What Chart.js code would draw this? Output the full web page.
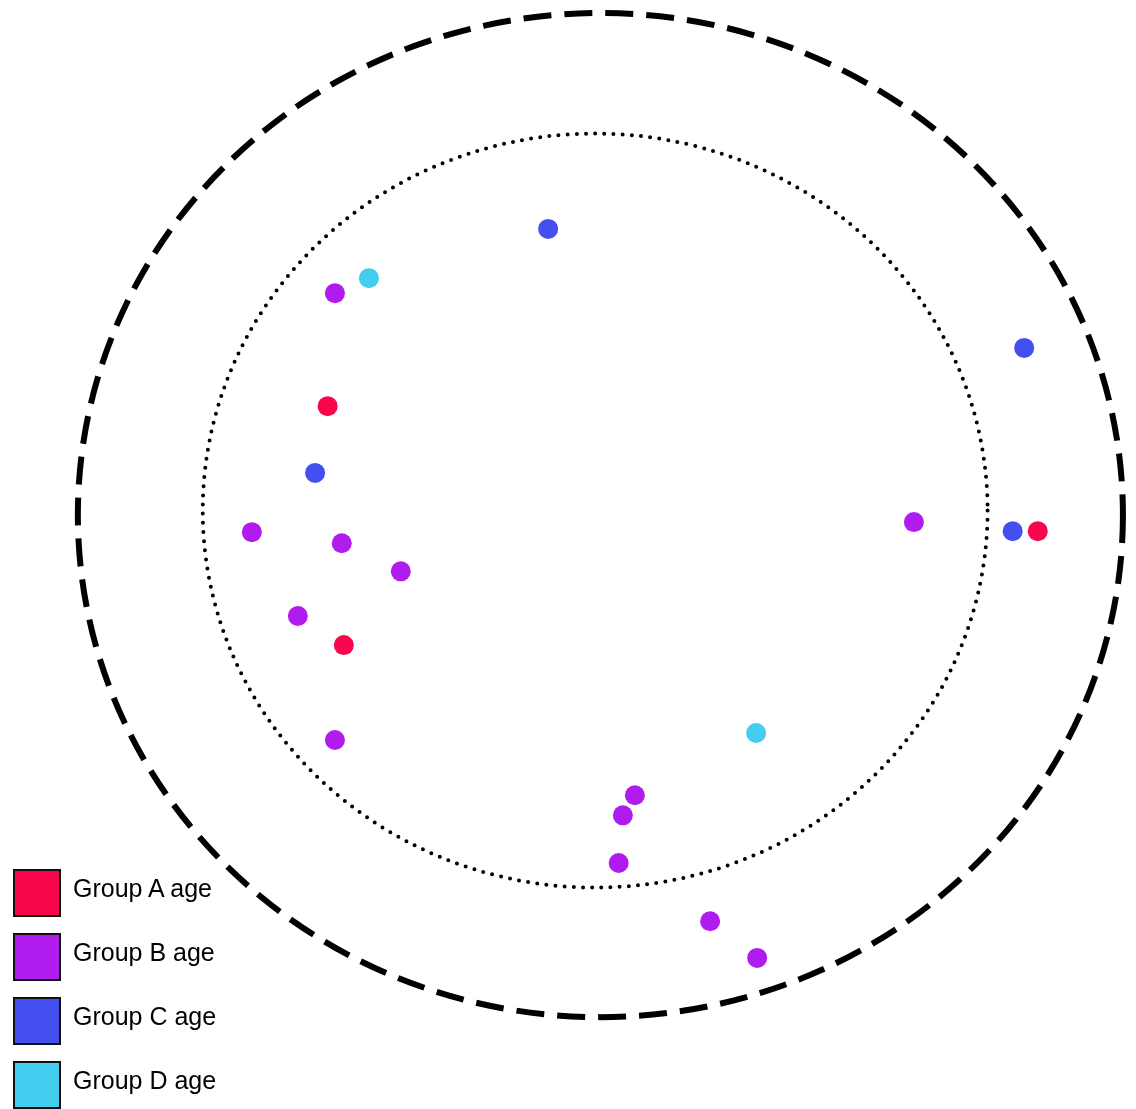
<!DOCTYPE html>
<html>
<head>
<meta charset="utf-8">
<script src="https://cdn.jsdelivr.net/npm/chart.js@4/dist/chart.umd.min.js"></script>
<style>
  html, body { margin: 0; padding: 0; background: #ffffff; }
  #wrap { position: relative; width: 1136px; height: 1109px; }
  #c { position: absolute; left: 0; top: 0; }
  #legend { position: absolute; left: 13px; top: 869px; font-family: "Liberation Sans", Arial, sans-serif; font-size: 25px; color: #000; }
  .row { position: relative; height: 64px; }
  .sw { position: absolute; left: 0; top: 0; width: 44px; height: 44px; border: 2px solid #111; }
  .lb { position: absolute; left: 60px; top: 4px; line-height: 30px; white-space: nowrap; }
</style>
</head>
<body>
<div id="wrap">
  <canvas id="c" width="1136" height="1109"></canvas>
  <div id="legend"></div>
</div>
<script>
// ---- data ----
const groupLabels = ["Group A age", "Group B age", "Group C age", "Group D age"];
const groupColors = ["#F8064B", "#B11CEE", "#4350EF", "#43CDEF"];

const groupAx = [-52.2, -49.1, 83.7];
const groupAy = [21.7, -25.9, -3.2];

const groupBx = [-50.8, -66.7, -49.5, -38.2, -57.9, -50.8, 60.0, 6.6, 4.3, 3.5, 21.0, 30.0];
const groupBy = [44.2, -3.4, -5.6, -11.2, -20.1, -44.8, -1.4, -55.8, -59.8, -69.3, -80.9, -88.2];

const groupCx = [-10.0, 81.1, -54.6, 78.9];
const groupCy = [57.0, 33.3, 8.4, -3.2];

const groupDx = [-44.3, 29.8];
const groupDy = [47.2, -43.4];

// reference rings (data units)
const outerRing = { cx: 0, cy: 0, r: 100 };
const innerRing = { cx: -1.0, cy: 0.9, r: 75.1 };

// axis ranges
const xRange = [-114.9, 102.5];
const yRange = [-118.3, 102.6];

// ---- build ----
function pts(xs, ys) { return xs.map((x, i) => ({ x: x, y: ys[i] })); }
const seriesX = [groupAx, groupBx, groupCx, groupDx];
const seriesY = [groupAy, groupBy, groupCy, groupDy];

const datasets = groupLabels.map((lab, i) => ({
  label: lab,
  data: pts(seriesX[i], seriesY[i]),
  backgroundColor: groupColors[i],
  borderWidth: 0,
  pointRadius: 10,
  pointHoverRadius: 10,
  clip: false
}));

const ringPlugin = {
  id: 'rings',
  beforeDatasetsDraw(chart) {
    const ctx = chart.ctx;
    const xs = chart.scales.x, ys = chart.scales.y;
    function ring(def, dash, width, cap) {
      const cx = xs.getPixelForValue(def.cx);
      const cy = ys.getPixelForValue(def.cy);
      const rx = xs.getPixelForValue(def.cx + def.r) - cx;
      const ry = cy - ys.getPixelForValue(def.cy + def.r);
      ctx.save();
      ctx.beginPath();
      ctx.ellipse(cx, cy, rx, ry, 0, 0, Math.PI * 2);
      ctx.setLineDash(dash);
      ctx.lineWidth = width;
      ctx.lineCap = cap;
      ctx.strokeStyle = '#000000';
      ctx.stroke();
      ctx.restore();
    }
    ring(outerRing, [28, 13], 6, 'butt');
    ring(innerRing, [0, 9.2], 4, 'round');
  }
};

new Chart(document.getElementById('c'), {
  type: 'scatter',
  data: { datasets: datasets },
  options: {
    responsive: false,
    devicePixelRatio: 1,
    animation: false,
    layout: { padding: 0, autoPadding: false },
    scales: {
      x: { type: 'linear', min: xRange[0], max: xRange[1], display: false },
      y: { type: 'linear', min: yRange[0], max: yRange[1], display: false }
    },
    plugins: {
      legend: { display: false },
      tooltip: { enabled: false }
    }
  },
  plugins: [ringPlugin]
});

// HTML legend
const leg = document.getElementById('legend');
groupLabels.forEach((lab, i) => {
  const row = document.createElement('div');
  row.className = 'row';
  const sw = document.createElement('div');
  sw.className = 'sw';
  sw.style.background = groupColors[i];
  const lb = document.createElement('div');
  lb.className = 'lb';
  lb.textContent = lab;
  row.appendChild(sw);
  row.appendChild(lb);
  leg.appendChild(row);
});
</script>
</body>
</html>
